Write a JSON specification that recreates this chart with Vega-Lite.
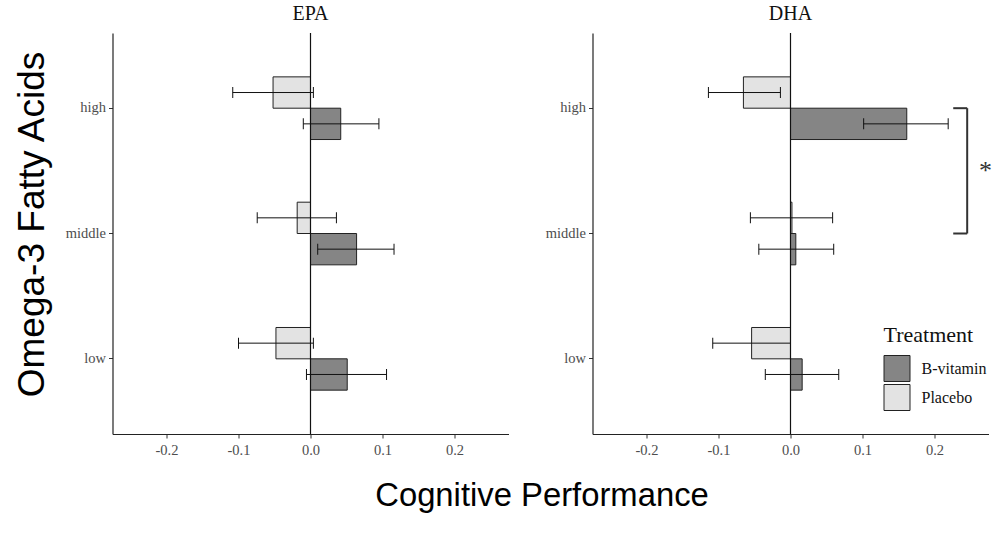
{
  "$schema": "https://vega.github.io/schema/vega-lite/v6.json",
  "background": "white",
  "padding": {"left": 12.5, "top": 4, "right": 5, "bottom": 5},
  "config": {
    "view": {"stroke": null},
    "axis": {"domainColor": "#222", "domainWidth": 1.2, "tickColor": "#333", "tickSize": 4, "labelFont": "Liberation Serif", "labelFontSize": 14.5, "labelColor": "#4d4d4d", "grid": false},
    "title": {"font": "Liberation Serif", "fontSize": 20, "fontWeight": "normal", "color": "#111", "offset": 8},
    "legend": {"titleFont": "Liberation Serif", "titleFontSize": 22, "titleFontWeight": "normal", "titleColor": "#111", "labelFont": "Liberation Serif", "labelFontSize": 16, "labelColor": "#111", "symbolType": "square", "symbolSize": 676, "symbolStrokeColor": "#222", "symbolStrokeWidth": 1, "rowPadding": -4, "labelOffset": 11, "titlePadding": 8, "symbolOpacity": 1}
  },
  "datasets": {
    "d": [
      {"acid": "EPA", "level": "high", "Treatment": "Placebo", "mean": -0.052, "lo": -0.108, "hi": 0.004},
      {"acid": "EPA", "level": "high", "Treatment": "B-vitamin", "mean": 0.042, "lo": -0.010, "hi": 0.095},
      {"acid": "EPA", "level": "middle", "Treatment": "Placebo", "mean": -0.0185, "lo": -0.074, "hi": 0.036},
      {"acid": "EPA", "level": "middle", "Treatment": "B-vitamin", "mean": 0.064, "lo": 0.010, "hi": 0.116},
      {"acid": "EPA", "level": "low", "Treatment": "Placebo", "mean": -0.048, "lo": -0.100, "hi": 0.004},
      {"acid": "EPA", "level": "low", "Treatment": "B-vitamin", "mean": 0.051, "lo": -0.0056, "hi": 0.1056},
      {"acid": "DHA", "level": "high", "Treatment": "Placebo", "mean": -0.0654, "lo": -0.114, "hi": -0.014},
      {"acid": "DHA", "level": "high", "Treatment": "B-vitamin", "mean": 0.1615, "lo": 0.1016, "hi": 0.219},
      {"acid": "DHA", "level": "middle", "Treatment": "Placebo", "mean": 0.002, "lo": -0.0557, "hi": 0.0585},
      {"acid": "DHA", "level": "middle", "Treatment": "B-vitamin", "mean": 0.0074, "lo": -0.044, "hi": 0.060},
      {"acid": "DHA", "level": "low", "Treatment": "Placebo", "mean": -0.054, "lo": -0.108, "hi": 0.0},
      {"acid": "DHA", "level": "low", "Treatment": "B-vitamin", "mean": 0.0162, "lo": -0.035, "hi": 0.067}
    ]
  },
  "bounds": "flush",
  "spacing": 84,
  "resolve": {"scale": {"color": "independent"}, "legend": {"color": "independent"}},
  "hconcat": [
    {
      "title": {"text": "EPA"},
      "width": 396,
      "height": 401,
      "data": {"name": "d"},
      "transform": [{"filter": "datum.acid === 'EPA'"}],
      "encoding": {
        "y": {"field": "level", "type": "nominal", "sort": ["high", "middle", "low"], "scale": {"paddingInner": 0, "paddingOuter": 0.1},
          "axis": {"title": "Omega-3 Fatty Acids", "titleFont": "Liberation Sans", "titleFontSize": 37, "titleFontWeight": "normal", "titleColor": "#000", "titlePadding": 14, "titleY": 191, "labelPadding": 3}},
        "yOffset": {"field": "Treatment", "type": "nominal", "sort": ["Placebo", "B-vitamin"], "scale": {"paddingInner": 0, "paddingOuter": 1}}
      },
      "layer": [
        {
          "mark": {"type": "bar", "stroke": "#222", "strokeWidth": 1},
          "encoding": {
            "x": {"field": "mean", "type": "quantitative", "scale": {"domain": [-0.275, 0.275], "nice": false, "zero": false},
              "axis": {"values": [-0.2, -0.1, 0, 0.1, 0.2], "labelExpr": "replace(format(datum.value, '.1f'), '\u2212', '-')", "labelPadding": 5,
                "title": "Cognitive Performance", "titleFont": "Liberation Sans", "titleFontSize": 32.8, "titleFontWeight": "normal", "titleColor": "#000", "titleX": 429, "titleY": 61, "titleBaseline": "middle", "titleAlign": "center", "titleAnchor": null}},
            "color": {"field": "Treatment", "type": "nominal", "scale": {"domain": ["B-vitamin", "Placebo"], "range": ["#858585", "#e3e3e3"]}, "legend": null}
          }
        },
        {
          "data": {"values": [{"acid": "EPA"}]},
          "mark": {"type": "rule", "color": "#111", "strokeWidth": 1.2},
          "encoding": {"x": {"datum": 0, "type": "quantitative"}, "y": null, "yOffset": null}
        },
        {
          "mark": {"type": "rule", "color": "#111", "strokeWidth": 1},
          "encoding": {"x": {"field": "lo", "type": "quantitative"}, "x2": {"field": "hi"}}
        },
        {
          "mark": {"type": "tick", "orient": "vertical", "size": 11, "thickness": 1, "color": "#111", "opacity": 1},
          "encoding": {"x": {"field": "lo", "type": "quantitative"}}
        },
        {
          "mark": {"type": "tick", "orient": "vertical", "size": 11, "thickness": 1, "color": "#111", "opacity": 1},
          "encoding": {"x": {"field": "hi", "type": "quantitative"}}
        }
      ]
    },
    {
      "title": {"text": "DHA"},
      "width": 396,
      "height": 401,
      "data": {"name": "d"},
      "transform": [{"filter": "datum.acid === 'DHA'"}],
      "encoding": {
        "y": {"field": "level", "type": "nominal", "sort": ["high", "middle", "low"], "scale": {"paddingInner": 0, "paddingOuter": 0.1},
          "axis": {"title": null, "labelPadding": 3}},
        "yOffset": {"field": "Treatment", "type": "nominal", "sort": ["Placebo", "B-vitamin"], "scale": {"paddingInner": 0, "paddingOuter": 1}}
      },
      "layer": [
        {
          "mark": {"type": "bar", "stroke": "#222", "strokeWidth": 1},
          "encoding": {
            "x": {"field": "mean", "type": "quantitative", "scale": {"domain": [-0.275, 0.275], "nice": false, "zero": false},
              "axis": {"values": [-0.2, -0.1, 0, 0.1, 0.2], "labelExpr": "replace(format(datum.value, '.1f'), '\u2212', '-')", "labelPadding": 5, "title": null}},
            "color": {"field": "Treatment", "type": "nominal", "scale": {"domain": ["B-vitamin", "Placebo"], "range": ["#858585", "#e3e3e3"]},
              "legend": {"title": "Treatment", "orient": "none", "legendX": 291, "legendY": 292}}
          }
        },
        {
          "data": {"values": [{"acid": "DHA"}]},
          "mark": {"type": "rule", "color": "#111", "strokeWidth": 1.2},
          "encoding": {"x": {"datum": 0, "type": "quantitative"}, "y": null, "yOffset": null}
        },
        {
          "mark": {"type": "rule", "color": "#111", "strokeWidth": 1},
          "encoding": {"x": {"field": "lo", "type": "quantitative"}, "x2": {"field": "hi"}}
        },
        {
          "mark": {"type": "tick", "orient": "vertical", "size": 11, "thickness": 1, "color": "#111", "opacity": 1},
          "encoding": {"x": {"field": "lo", "type": "quantitative"}}
        },
        {
          "mark": {"type": "tick", "orient": "vertical", "size": 11, "thickness": 1, "color": "#111", "opacity": 1},
          "encoding": {"x": {"field": "hi", "type": "quantitative"}}
        },
        {
          "data": {"values": [{"acid": "DHA"}]},
          "mark": {"type": "rule", "color": "#333", "strokeWidth": 2},
          "encoding": {"x": {"datum": 0.2454, "type": "quantitative"}, "y": {"datum": "high", "type": "nominal"}, "y2": {"datum": "middle"}, "yOffset": null}
        },
        {
          "data": {"values": [{"acid": "DHA"}]},
          "mark": {"type": "rule", "color": "#333", "strokeWidth": 2},
          "encoding": {"x": {"datum": 0.226, "type": "quantitative"}, "x2": {"datum": 0.2454}, "y": {"datum": "high", "type": "nominal"}, "yOffset": null}
        },
        {
          "data": {"values": [{"acid": "DHA"}]},
          "mark": {"type": "rule", "color": "#333", "strokeWidth": 2},
          "encoding": {"x": {"datum": 0.226, "type": "quantitative"}, "x2": {"datum": 0.2454}, "y": {"datum": "middle", "type": "nominal"}, "yOffset": null}
        },
        {
          "data": {"values": [{"acid": "DHA"}]},
          "mark": {"type": "text", "font": "Liberation Serif", "fontSize": 26, "fill": "#333", "baseline": "middle", "align": "center"},
          "encoding": {"x": {"datum": 0.271, "type": "quantitative"}, "y": {"datum": "high", "type": "nominal", "bandPosition": 1}, "yOffset": null, "text": {"value": "*"}}
        }
      ]
    }
  ]
}
